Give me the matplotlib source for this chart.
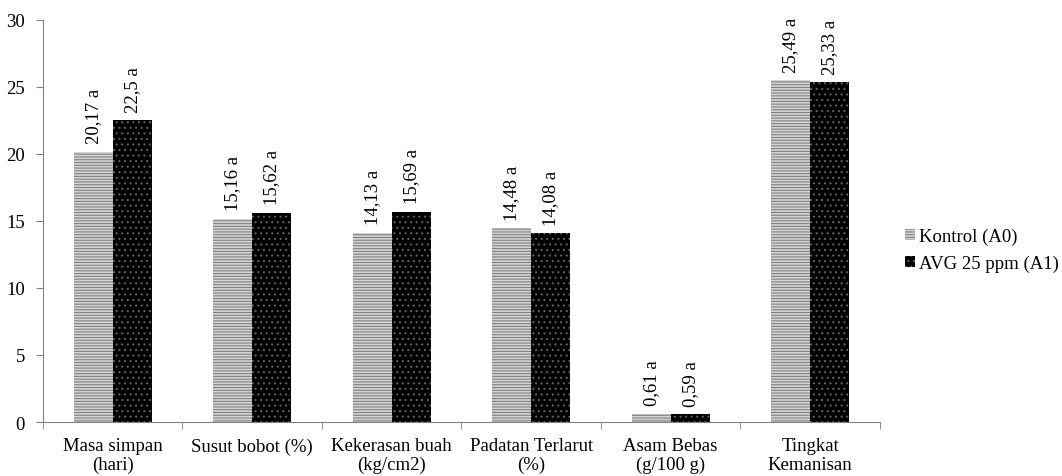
import numpy as np
import matplotlib.pyplot as plt

plt.rcParams['font.family'] = ['Liberation Serif', 'DejaVu Serif']
plt.rcParams['hatch.linewidth'] = 0.8

categories = ['Masa simpan\n(hari)', 'Susut bobot (%)', 'Kekerasan buah\n(kg/cm2)',
              'Padatan Terlarut\n(%)', 'Asam Bebas\n(g/100 g)', 'Tingkat\nKemanisan']
kontrol = [20.17, 15.16, 14.13, 14.48, 0.61, 25.49]
avg25 = [22.5, 15.62, 15.69, 14.08, 0.59, 25.33]
kontrol_lbl = ['20,17 a', '15,16 a', '14,13 a', '14,48 a', '0,61 a', '25,49 a']
avg25_lbl = ['22,5 a', '15,62 a', '15,69 a', '14,08 a', '0,59 a', '25,33 a']

fs = 13.5
fig = plt.figure(figsize=(10.62, 4.77), dpi=100)
ax = fig.add_axes([0.0405, 0.1132, 0.788, 0.843])

x = np.arange(len(categories))
width = 0.28
b1 = ax.bar(x - width/2, kontrol, width, color='#d4d4d4', edgecolor='#808080',
            hatch='------', linewidth=0, label='Kontrol (A0)')
b2 = ax.bar(x + width/2, avg25, width, color='black', edgecolor='#606060',
            hatch='...', linewidth=0, label='AVG 25 ppm (A1)')

for rects, labels in [(b1, kontrol_lbl), (b2, avg25_lbl)]:
    for rect, t in zip(rects, labels):
        ax.annotate(t, (rect.get_x() + rect.get_width()/2, rect.get_height()),
                    xytext=(0, 6), textcoords='offset points',
                    rotation=90, ha='center', va='bottom', fontsize=fs)

ax.set_xlim(-0.5, len(categories) - 0.5)
ax.set_ylim(0, 30)
ax.set_yticks(range(0, 31, 5))
ax.set_xticks(x)
ax.set_xticklabels(categories, fontsize=fs, linespacing=1.1)
ax.set_xticks(np.arange(len(categories) + 1) - 0.5, minor=True)
ax.tick_params(axis='y', labelsize=fs, direction='out', length=5, color='#808080', pad=8)
ax.tick_params(axis='x', which='major', length=0, pad=11)
ax.tick_params(axis='x', which='minor', length=5, color='#808080', direction='out')
ax.spines['top'].set_visible(False)
ax.spines['right'].set_visible(False)
ax.spines['left'].set_color('#808080')
ax.spines['bottom'].set_color('#808080')

ax.legend(loc='center left', bbox_to_anchor=(0.852, 0.474),
          bbox_transform=fig.transFigure, frameon=False, borderpad=0,
          borderaxespad=0, fontsize=fs, handlelength=0.55, handleheight=0.55,
          handletextpad=0.2, labelspacing=0.5)

fig.savefig('out.png', dpi=100)
